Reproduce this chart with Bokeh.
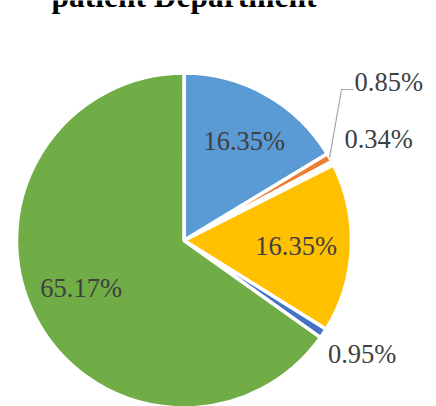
import numpy as np
from bokeh.plotting import figure
from bokeh.models import Range1d, ColumnDataSource
from bokeh.core.properties import value
from bokeh.embed import file_html
from bokeh.resources import INLINE

# ---- data ----
categories = ["Slice 1", "Slice 2", "Slice 3", "Slice 4", "Slice 5", "Slice 6"]
values = [16.35, 0.85, 0.34, 16.35, 0.95, 65.17]
labels = ["16.35%", "0.85%", "0.34%", "16.35%", "0.95%", "65.17%"]
colors = ["#5B9BD5", "#ED7D31", "#A5A5A5", "#FFC000", "#4472C4", "#70AD47"]
title_text = "patient Department"

# ---- layout ----
W, H = 436, 406
CX, CY = 183.5, H - 240
R = 167.5
label_r = [0.694, None, 1.31, 0.67, 1.26, 0.676]     # radial factor (None = moved)
label_da = [1.8, 0.0, 0.0, 0.0, -1.3, 2.5]           # angular nudge, degrees
moved_label_xy = (354, H - 81)                       # left-aligned moved label
leader_elbow = [(353, H - 89), (341, H - 89)]

vals = np.array(values, dtype=float)
frac = vals / vals.sum()
ends = np.cumsum(frac) * 360.0
starts = ends - frac * 360.0
mids = (starts + ends) / 2.0

src = ColumnDataSource(dict(
    cat=categories,
    start=np.radians(90.0 - starts),
    end=np.radians(90.0 - ends),
    color=colors,
))

p = figure(width=W, height=H, x_range=Range1d(0, W), y_range=Range1d(0, H),
           output_backend="svg", toolbar_location=None, min_border=0,
           x_axis_type=None, y_axis_type=None, outline_line_color=None,
           background_fill_color="white", border_fill_color="white",
           margin=(0, 0, 0, 0))
p.xgrid.visible = False
p.ygrid.visible = False

p.wedge(x=CX, y=CY, radius=R, start_angle="start", end_angle="end",
        direction="clock", fill_color="color", line_color="white",
        line_width=3.5, source=src)

# inside / outside labels
lx, ly, lt = [], [], []
for i, f in enumerate(label_r):
    if f is None:
        continue
    a = np.radians(mids[i] + label_da[i])
    lx.append(CX + f * R * np.sin(a))
    ly.append(CY + f * R * np.cos(a))
    lt.append(labels[i])
p.text(x=lx, y=ly, text=lt, text_align="center", text_baseline="middle",
       text_font=value("Liberation Serif"), text_font_size=value("26.5px"),
       text_color="#404040")

# moved label with leader line
idx = label_r.index(None)
a = np.radians(mids[idx])
ex, ey = CX + R * np.sin(a), CY + R * np.cos(a)
p.line(x=[leader_elbow[0][0], leader_elbow[1][0], ex],
       y=[leader_elbow[0][1], leader_elbow[1][1], ey],
       line_color="#A6A6A6", line_width=1.2)
p.text(x=[moved_label_xy[0]], y=[moved_label_xy[1]], text=[labels[idx]],
       text_align="left", text_baseline="middle",
       text_font=value("Liberation Serif"), text_font_size=value("26.5px"),
       text_color="#404040")

# title (only its lower part is visible, as in the reference)
p.text(x=[183.5], y=[H + 4], text=[title_text], text_align="center",
       text_baseline="alphabetic", text_font=value("Liberation Serif"),
       text_font_style="bold", text_font_size=value("31.5px"), text_color="black")

open("out.html", "w").write(file_html(p, INLINE))
